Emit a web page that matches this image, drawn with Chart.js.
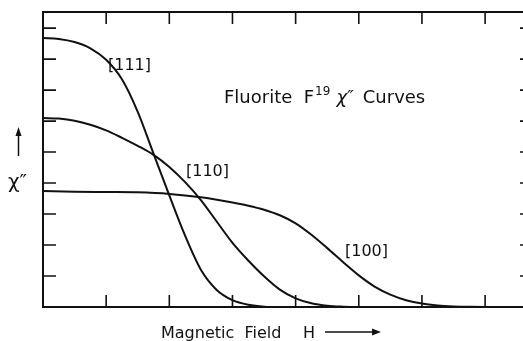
<!DOCTYPE html>
<html>
<head>
<meta charset="utf-8">
<script src="https://cdn.jsdelivr.net/npm/chart.js@4.4.1/dist/chart.umd.min.js"></script>
<style>
  html, body { margin: 0; padding: 0; background: #fff; }
  #wrap { width: 523px; height: 341px; }
</style>
</head>
<body>
<div id="wrap"><canvas id="c" width="523" height="341"></canvas></div>
<script>
'use strict';

// Valores (unidades = divisões das marcas)
var x111 = [0, 0.25, 0.5, 0.75, 1.0, 1.25, 1.5, 1.75, 2.0, 2.25, 2.5, 2.75, 3.0, 3.25, 3.5, 3.75, 7.6];
var y111 = [8.68, 8.65, 8.55, 8.35, 7.98, 7.35, 6.30, 4.95, 3.60, 2.30, 1.20, 0.55, 0.22, 0.07, 0.01, 0, 0];

var x110 = [0, 0.25, 0.5, 0.75, 1.0, 1.25, 1.5, 1.75, 2.0, 2.25, 2.5, 2.75, 3.0, 3.25, 3.5, 3.75, 4.0, 4.25, 4.5, 4.75, 5.0, 7.6];
var y110 = [6.10, 6.08, 6.01, 5.88, 5.70, 5.46, 5.20, 4.91, 4.52, 4.03, 3.45, 2.76, 2.07, 1.50, 0.99, 0.56, 0.28, 0.12, 0.04, 0.01, 0, 0];

var x100 = [0, 0.5, 1.0, 1.5, 2.0, 2.5, 3.0, 3.25, 3.5, 3.75, 4.0, 4.25, 4.5, 4.75, 5.0, 5.25, 5.5, 5.75, 6.0, 6.25, 6.5, 6.75, 7.0, 7.6];
var y100 = [3.74, 3.72, 3.71, 3.70, 3.65, 3.54, 3.37, 3.27, 3.14, 2.96, 2.70, 2.33, 1.90, 1.45, 1.02, 0.66, 0.40, 0.22, 0.11, 0.05, 0.02, 0.005, 0, 0];

var xTicks = [1, 2, 3, 4, 5, 6, 7];
var yTicks = [1, 2, 3, 4, 5, 6, 7, 8, 9];
var curveLabels = ['[111]', '[110]', '[100]'];

function toPoints(xs, ys) {
    return xs.map(function(x, i) { return { x: x, y: ys[i] }; });
}

function serie(label, xs, ys) {
    return {
        label: label,
        data: toPoints(xs, ys),
        borderColor: '#111',
        borderWidth: 2,
        pointRadius: 0,
        fill: false,
        cubicInterpolationMode: 'monotone'
    };
}

var FONT = '"DejaVu Sans", sans-serif';

// Moldura, marcas para dentro e textos
var framePlugin = {
    id: 'frame',
    afterDraw: function(chart) {
        var ctx = chart.ctx;
        var a = chart.chartArea;
        var xs = chart.scales.x, ys = chart.scales.y;
        ctx.save();
        ctx.strokeStyle = '#111';
        ctx.fillStyle = '#111';
        ctx.lineWidth = 2;
        ctx.beginPath();
        ctx.moveTo(a.right + 2, a.top);
        ctx.lineTo(a.left, a.top);
        ctx.lineTo(a.left, a.bottom);
        ctx.lineTo(a.right + 2, a.bottom);
        ctx.stroke();

        ctx.lineWidth = 1.6;
        ctx.beginPath();
        xTicks.forEach(function(v) {
            var px = xs.getPixelForValue(v);
            ctx.moveTo(px, a.top); ctx.lineTo(px, a.top + 12);
            ctx.moveTo(px, a.bottom); ctx.lineTo(px, a.bottom - 12);
        });
        yTicks.forEach(function(v) {
            var py = ys.getPixelForValue(v);
            ctx.moveTo(a.left, py); ctx.lineTo(a.left + 13, py);
            ctx.moveTo(a.right, py); ctx.lineTo(a.right - 3, py);
        });
        ctx.stroke();

        // rótulos das curvas
        ctx.textBaseline = 'middle';
        ctx.textAlign = 'left';
        ctx.font = '16px ' + FONT;
        ctx.fillText(curveLabels[0], 108, 66);
        ctx.fillText(curveLabels[1], 186, 172);
        ctx.fillText(curveLabels[2], 345, 252);

        // título interno
        ctx.font = '18px ' + FONT;
        ctx.textBaseline = 'alphabetic';
        var tx = 224, ty = 103;
        ctx.fillText('Fluorite  F', tx, ty);
        tx += ctx.measureText('Fluorite  F').width + 1;
        ctx.font = '12px ' + FONT;
        ctx.fillText('19', tx, ty - 8);
        tx += ctx.measureText('19').width + 6;
        ctx.font = 'italic 18px ' + FONT;
        ctx.fillText('\u03C7\u2033', tx, ty);
        tx += ctx.measureText('\u03C7\u2033').width + 9;
        ctx.font = '18px ' + FONT;
        ctx.fillText('Curves', tx, ty);

        // título do eixo x
        ctx.font = '16px ' + FONT;
        ctx.fillText('Magnetic  Field', 161, 338);
        ctx.fillText('H', 303, 338);
        ctx.lineWidth = 1.5;
        ctx.beginPath();
        ctx.moveTo(325, 332); ctx.lineTo(376, 332);
        ctx.stroke();
        ctx.beginPath();
        ctx.moveTo(381, 332); ctx.lineTo(372, 328.5); ctx.lineTo(372, 335.5);
        ctx.closePath(); ctx.fill();

        // título do eixo y
        ctx.beginPath();
        ctx.moveTo(18.5, 156); ctx.lineTo(18.5, 133);
        ctx.stroke();
        ctx.beginPath();
        ctx.moveTo(18.5, 127); ctx.lineTo(15.5, 136); ctx.lineTo(21.5, 136);
        ctx.closePath(); ctx.fill();
        ctx.font = '20px ' + FONT;
        ctx.fillText('\u03C7\u2033', 8, 188);
        ctx.restore();
    }
};

new Chart(document.getElementById('c').getContext('2d'), {
    type: 'line',
    data: {
        datasets: [
            serie(curveLabels[0], x111, y111),
            serie(curveLabels[1], x110, y110),
            serie(curveLabels[2], x100, y100)
        ]
    },
    options: {
        responsive: false,
        animation: false,
        layout: { padding: { left: 43, top: 12, right: 0, bottom: 34 } },
        plugins: { legend: { display: false }, tooltip: { enabled: false } },
        scales: {
            x: { type: 'linear', min: 0, max: 7.6, display: false },
            y: { type: 'linear', min: 0, max: 9.52, display: false }
        }
    },
    plugins: [framePlugin]
});
</script>
</body>
</html>
